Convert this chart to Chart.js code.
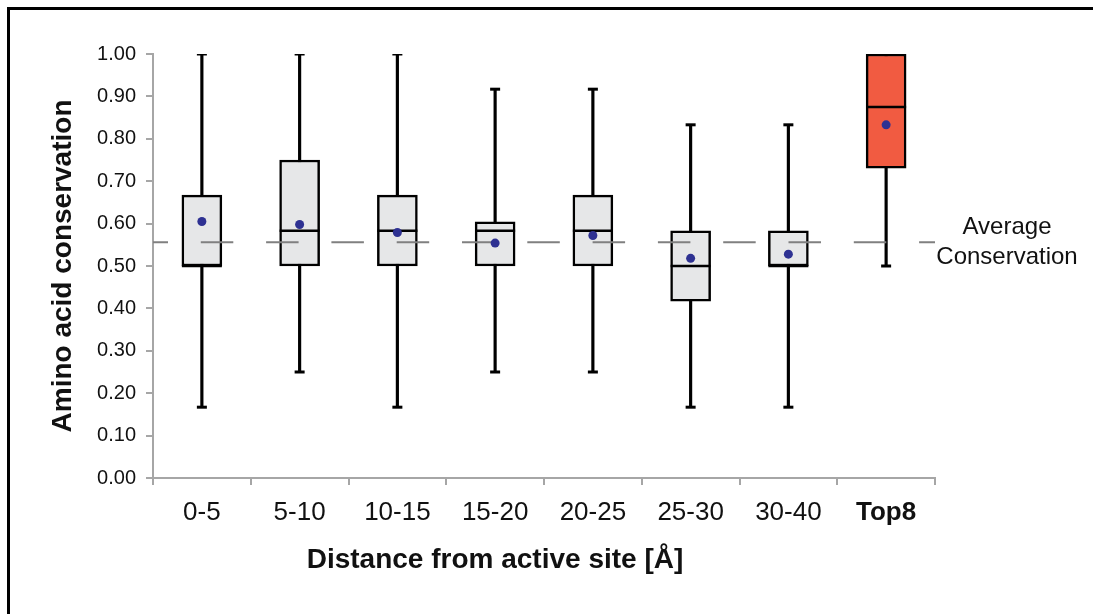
<!DOCTYPE html>
<html>
<head>
<meta charset="utf-8">
<script src="https://cdn.jsdelivr.net/npm/chart.js@4.4.1/dist/chart.umd.min.js"></script>
<style>
  body { margin: 0; background: #fff; }
  #wrap { position: relative; width: 1093px; height: 614px; overflow: hidden; }
  #frame { position: absolute; left: 7px; top: 7px; width: 1200px; height: 700px;
           border-top: 3px solid #000; border-left: 3px solid #000; pointer-events: none; }
</style>
</head>
<body>
<div id="wrap">
  <canvas id="chart" width="1093" height="614"></canvas>
  <div id="frame"></div>
</div>
<script>
// distance bins and box statistics
const categories = ['0-5', '5-10', '10-15', '15-20', '20-25', '25-30', '30-40', 'Top8'];
const mins    = [0.167, 0.25, 0.167, 0.25, 0.25, 0.167, 0.167, 0.50];
const q1s     = [0.50, 0.50, 0.50, 0.50, 0.50, 0.417, 0.50, 0.731];
const medians = [0.50, 0.583, 0.583, 0.583, 0.583, 0.50, 0.50, 0.875];
const q3s     = [0.667, 0.75, 0.667, 0.604, 0.667, 0.583, 0.583, 1.00];
const maxs    = [1.00, 1.00, 1.00, 0.917, 0.917, 0.833, 0.833, 1.00];
const means   = [0.605, 0.598, 0.579, 0.554, 0.572, 0.518, 0.528, 0.833];
const averageConservation = 0.556;
const yTicks = [0, 0.1, 0.2, 0.3, 0.4, 0.5, 0.6, 0.7, 0.8, 0.9, 1.0];
const xTitle = 'Distance from active site [Å]';

const FONT = "'Liberation Sans', Arial, Helvetica, sans-serif";
const boxFill = categories.map(c => c === 'Top8' ? '#f15b41' : '#e6e7e8');

const pts = arr => arr.map((v, i) => ({ x: categories[i], y: v }));

// text next to the dashed line, and the x title (sits left of the axis centre in the original)
const extraText = {
  id: 'extraText',
  afterDraw(chart) {
    const { ctx, chartArea, scales } = chart;
    const y = scales.y.getPixelForValue(averageConservation);
    ctx.save();
    ctx.fillStyle = '#111';
    ctx.textAlign = 'center';
    ctx.textBaseline = 'middle';
    ctx.font = '24px ' + FONT;
    const cx = chartArea.right + 72;
    ctx.fillText('Average', cx, y - 15);
    ctx.fillText('Conservation', cx, y + 15);
    ctx.font = 'bold 28px ' + FONT;
    ctx.fillText(xTitle, scales.x.left + 342, chartArea.bottom + 82);
    ctx.restore();
  }
};

new Chart(document.getElementById('chart'), {
  data: {
    labels: categories,
    datasets: [
      {
        type: 'scatter', label: 'Mean', order: 0,
        data: pts(means),
        pointStyle: 'circle', pointRadius: 4.5,
        backgroundColor: '#2e3192', borderColor: '#2e3192', borderWidth: 0
      },
      {
        type: 'line', label: 'Average', order: 1, xAxisID: 'x2',
        data: [{ x: 0, y: averageConservation }, { x: 1, y: averageConservation }],
        borderColor: '#808080', borderWidth: 2,
        borderDash: [32.5, 32.8], borderDashOffset: 17.5,
        pointRadius: 0
      },
      {
        type: 'line', label: 'Median', order: 2, showLine: false,
        data: pts(medians),
        pointStyle: 'line', pointRadius: 20, pointBorderWidth: 2.5,
        pointBorderColor: '#000', borderColor: '#000'
      },
      {
        type: 'line', label: 'Caps', order: 3, showLine: false,
        data: pts(mins).concat(pts(maxs)),
        pointStyle: 'line', pointRadius: 5, pointBorderWidth: 3,
        pointBorderColor: '#000', borderColor: '#000'
      },
      {
        type: 'bar', label: 'Box', order: 4, grouped: false,
        data: q1s.map((v, i) => [v, q3s[i]]),
        backgroundColor: boxFill, borderColor: '#000',
        borderWidth: 2.5, borderSkipped: false, barThickness: 40
      },
      {
        type: 'bar', label: 'Whisker', order: 5, grouped: false,
        data: mins.map((v, i) => [v, maxs[i]]),
        backgroundColor: '#000', borderWidth: 0, barThickness: 2.5
      }
    ]
  },
  options: {
    responsive: false,
    animation: false,
    events: [],
    layout: { padding: { top: 54, right: 158, left: 0, bottom: 0 } },
    plugins: { legend: { display: false }, tooltip: { enabled: false } },
    scales: {
      x: {
        type: 'category',
        offset: true,
        grid: { offset: true, drawOnChartArea: false, color: '#a6a6a6', lineWidth: 2, tickLength: 7 },
        border: { color: '#a6a6a6', width: 2 },
        ticks: {
          color: '#111', padding: 12,
          font: ctx => ({ family: FONT, size: 26, weight: categories[ctx.index] === 'Top8' ? 'bold' : 'normal' })
        },
        afterFit: s => { s.height = 136; }
      },
      x2: { type: 'linear', min: 0, max: 1, display: false },
      y: {
        min: 0, max: 1,
        afterBuildTicks: s => { s.ticks = yTicks.map(v => ({ value: v })); },
        grid: { drawOnChartArea: false, color: '#a6a6a6', lineWidth: 2, tickLength: 7 },
        border: { color: '#a6a6a6', width: 2 },
        ticks: {
          color: '#111', padding: 10,
          font: { family: FONT, size: 20 },
          callback: v => Number(v).toFixed(2)
        },
        title: {
          display: true, text: 'Amino acid conservation', color: '#111',
          font: { family: FONT, size: 28, weight: 'bold' },
          padding: { top: 46, bottom: 0 }
        },
        afterFit: s => { s.width = 153; }
      }
    }
  },
  plugins: [extraText]
});
</script>
</body>
</html>
